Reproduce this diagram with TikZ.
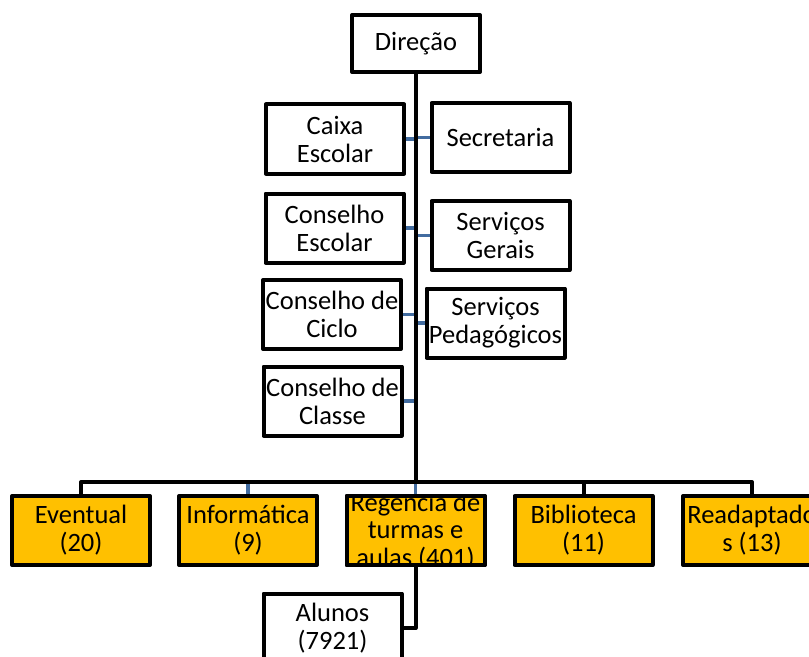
\documentclass[tikz,border=0pt]{standalone}
\usepackage{fontspec}
\setmainfont{Carlito}
\pgfdeclarelayer{links}
\pgfsetlayers{links,main}
\definecolor{gold}{RGB}{255,192,0}
\definecolor{linkblue}{RGB}{66,108,160}
\tikzset{
  orgbox/.style={draw, line width=4bp, line join=round, outer sep=0pt, inner sep=0pt,
    minimum width=138bp, minimum height=69bp, align=center, fill=white,
    font=\fontsize{26.5bp}{28bp}\selectfont},
  goldbox/.style={orgbox, fill=gold},
  blackline/.style={draw=black, line width=4bp},
  blueline/.style={draw=linkblue, line width=3.5bp}
}
\begin{document}
\begin{tikzpicture}[x=1bp, y=-1bp]
\useasboundingbox (0,0) rectangle (809,657);
\clip (0,0) rectangle (809,657);

% upper part: direction and its staff
\node[orgbox, minimum width=128bp, minimum height=57bp] (dir) at (416,43.5) {Direção};
\node[orgbox] (caixa)   at (335,139)     {Caixa\\Escolar};
\node[orgbox] (secr)    at (500.5,137.5) {Secretaria};
\node[orgbox] (cesc)    at (334.5,228)   {Conselho\\Escolar};
\node[orgbox] (sger)    at (500.5,235.5) {Serviços\\Gerais};
\node[orgbox] (cciclo)  at (332,314.5)   {Conselho de\\Ciclo};
\node[orgbox] (sped)    at (495.5,323)   {Serviços\\Pedagógicos};
\node[orgbox] (cclasse) at (332.5,401)   {Conselho de\\Classe};

% lower row of sectors
\node[goldbox] (ev)  at (81,530.5)    {Eventual\\(20)};
\node[goldbox] (inf) at (248,530.5)   {Informática\\(9)};
\node[goldbox] (reg) at (415.5,530.5) {};
\begin{scope}
  \clip (reg.north west) rectangle (reg.south east);
  \node[font=\fontsize{26.5bp}{27.5bp}\selectfont, align=center, inner sep=0pt]
    (regtext) at (415.5,531.5) {Regência de\\turmas e\\aulas (401)};
\end{scope}
\draw[line width=4bp, line join=round] (reg.north west) rectangle (reg.south east);
\node[goldbox] (bib) at (583.5,530.5) {Biblioteca\\(11)};
\node[goldbox] (rd)  at (752,530.5)   {Readaptado\\s (13)};

\node[orgbox] (alu) at (332.5,628) {Alunos\\(7921)};

\coordinate (bar) at (416,482);

\begin{pgfonlayer}{links}
  % staff stubs off the spine
  \draw[blueline] (caixa.east)   -- (caixa.east -| dir.south);
  \draw[blueline] (secr.west)    -- (secr.west -| dir.south);
  \draw[blueline] (cesc.east)    -- (cesc.east -| dir.south);
  \draw[blueline] (sger.west)    -- (sger.west -| dir.south);
  \draw[blueline] (cciclo.east)  -- (cciclo.east -| dir.south);
  \draw[blueline] (sped.west)    -- (sped.west -| dir.south);
  \draw[blueline] (cclasse.east) -- (cclasse.east -| dir.south);
  \draw[blueline] (inf.north |- bar) -- (inf.north);
  \draw[blueline] (reg.north |- bar) -- (reg.north);
  % main spine and distribution bar
  \draw[blackline] (dir.south) -- (dir.south |- bar);
  \draw[blackline, line join=round] (ev.north) -- (ev.north |- bar) -- (rd.north |- bar) -- (rd.north);
  \draw[blackline] (bib.north |- bar) -- (bib.north);
  \draw[blackline, line join=round] (reg.south) -- (reg.south |- alu.east) -- (alu.east);
\end{pgfonlayer}
\end{tikzpicture}
\end{document}
